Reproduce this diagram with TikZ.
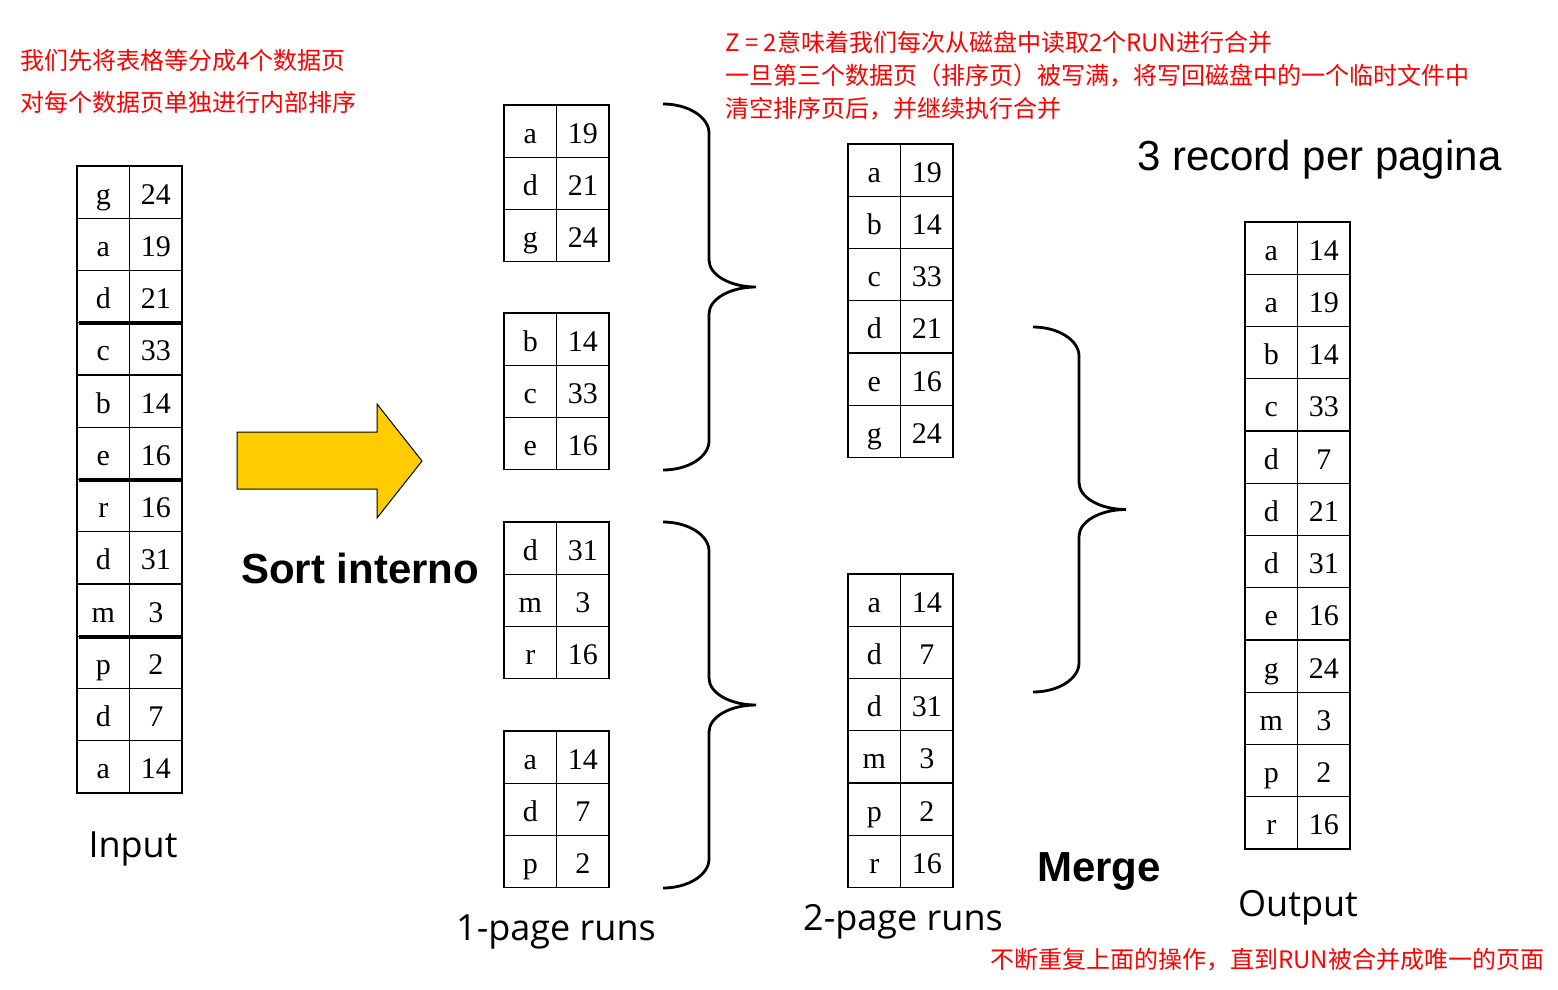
\documentclass[tikz,border=0pt]{standalone}
\usepackage{fontspec}
\setmainfont{Liberation Serif}
\newfontfamily\cjkf{Noto Sans CJK SC}
\newfontfamily\arialf{Liberation Sans}
\newfontfamily\comicf{Open Sans}
\definecolor{arrowyellow}{HTML}{FFCC00}
\definecolor{notered}{HTML}{FF0000}

\newcommand\rtab[4]{%
  \foreach \la/\lb [count=\k] in {#4} {
    \node[cell] (#1-\k-l) at ({#2+26.25},{#3+(\k-0.5)*52.25}) {\la};
    \node[cell] (#1-\k-r) at ({#2+78.75},{#3+(\k-0.5)*52.25}) {\lb};
  }%
}
\newcommand\bracer[3]{%
  \draw[brace] (#1,#2) .. controls ({#1+25},#2) and ({#1+46},{#2+13}) .. ({#1+46},{#2+29})
   -- ({#1+46},{(#2+#3)/2-27}) .. controls ({#1+46},{(#2+#3)/2-12}) and ({#1+67},{(#2+#3)/2}) .. ({#1+93},{(#2+#3)/2})
   .. controls ({#1+67},{(#2+#3)/2}) and ({#1+46},{(#2+#3)/2+12}) .. ({#1+46},{(#2+#3)/2+27})
   -- ({#1+46},{#3-29}) .. controls ({#1+46},{#3-13}) and ({#1+25},#3) .. (#1,#3);%
}

\begin{document}
\begin{tikzpicture}[x=1pt,y=-1pt,
  cell/.style={draw, line width=1.2pt, minimum width=52.5pt, minimum height=52.25pt,
    inner sep=0pt, text height=24pt, text depth=0pt,
    font=\fontsize{30}{36}\selectfont},
  brace/.style={line width=2.8pt},
  rednote/.style={anchor=west, inner sep=0pt, text=notered,
    font=\cjkf\fontsize{24}{28}\selectfont},
  boldlabel/.style={anchor=base west, inner sep=0pt, font=\arialf\bfseries\fontsize{42}{48}\selectfont},
  runlabel/.style={anchor=base, inner sep=0pt, font=\comicf\fontsize{36}{42}\selectfont},
  sep/.style={line width=4pt}]
\useasboundingbox (0,0) rectangle (1558,990);
\fill[white] (0,0) rectangle (1558,990);

% red notes
\node[rednote] (n1) at (20,60) {我们先将表格等分成4个数据页};
\node[rednote] (n2) at (20,102) {对每个数据页单独进行内部排序};
\node[rednote] (n3) at (725,42) {Z = 2意味着我们每次从磁盘中读取2个RUN进行合并};
\node[rednote] (n4) at (725,76) {一旦第三个数据页（排序页）被写满，将写回磁盘中的一个临时文件中};
\node[rednote] (n5) at (725,109) {清空排序页后，并继续执行合并};
\node[rednote] (n6) at (990,960) {不断重复上面的操作，直到RUN被合并成唯一的页面};

% input table
\rtab{in}{77}{166}{g/24,a/19,d/21,c/33,b/14,e/16,r/16,d/31,m/3,p/2,d/7,a/14}
\draw[sep] ([xshift=3pt]in-3-l.south west) -- ([xshift=-2pt]in-3-r.south east);
\draw[sep] ([xshift=3pt]in-6-l.south west) -- ([xshift=-2pt]in-6-r.south east);
\draw[sep] ([xshift=3pt]in-9-l.south west) -- ([xshift=-2pt]in-9-r.south east);

% 1-page runs
\rtab{ra}{504}{105}{a/19,d/21,g/24}
\rtab{rb}{504}{313}{b/14,c/33,e/16}
\rtab{rc}{504}{522}{d/31,m/3,r/16}
\rtab{rd}{504}{731}{a/14,d/7,p/2}

% 2-page runs
\rtab{ma}{848}{144}{a/19,b/14,c/33,d/21,e/16,g/24}
\rtab{mb}{848}{574}{a/14,d/7,d/31,m/3,p/2,r/16}

% output
\rtab{out}{1245}{222}{a/14,a/19,b/14,c/33,d/7,d/21,d/31,e/16,g/24,m/3,p/2,r/16}

% braces
\bracer{663}{104}{470}
\bracer{663}{522}{888}
\bracer{1033}{327}{692}

% big arrow
\draw[fill=arrowyellow, line width=1pt, line join=miter]
  (237,432) -- (377,432) -- (377,404) -- (422,461) -- (377,518) -- (377,489) -- (237,489) -- cycle;

% labels
\node[boldlabel] (sortlab) at (241,583) {Sort interno};
\node[boldlabel] (mergelab) at (1037,881) {Merge};
\node[anchor=base west, inner sep=0pt, font=\arialf\fontsize{42}{48}\selectfont] (rec) at (1137,170) {3 record per pagina};
\node[runlabel] (inlab) at (133,857) {Input};
\node[runlabel] (r1lab) at (556,940) {1-page runs};
\node[runlabel] (r2lab) at (903,930) {2-page runs};
\node[runlabel] (outlab) at (1298,916) {Output};
\end{tikzpicture}
\end{document}
